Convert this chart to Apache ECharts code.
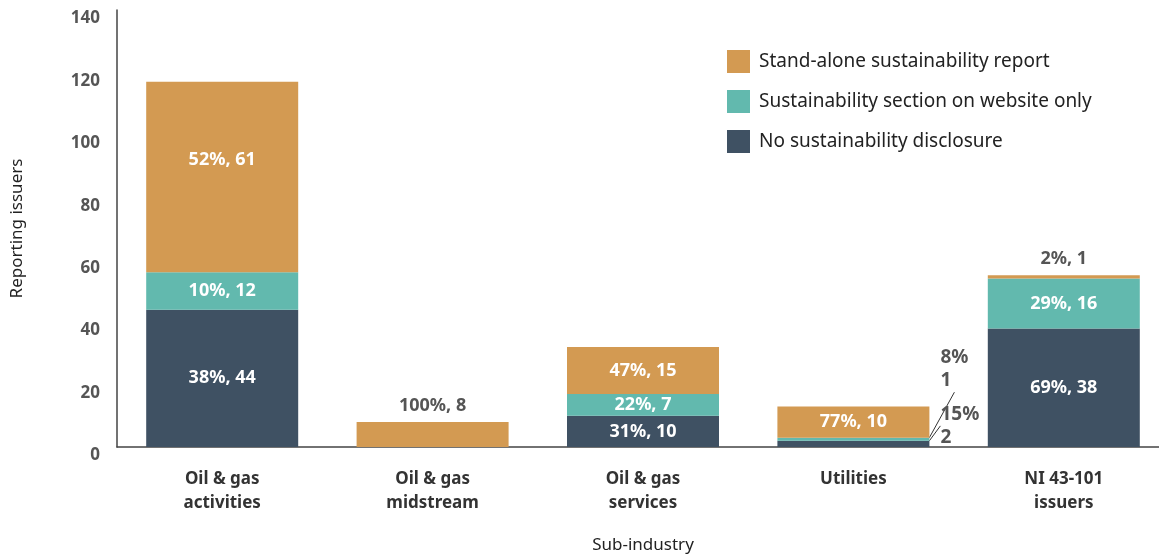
<!DOCTYPE html>
<html>
<head>
<meta charset="utf-8">
<script src="https://cdn.jsdelivr.net/npm/echarts@6/dist/echarts.min.js"></script>
<style>
  html, body { margin: 0; padding: 0; background: #fff; }
  #chart { width: 1159px; height: 559px; }
</style>
</head>
<body>
<div id="chart"></div>
<script>
// Sub-industries on the x axis
const categories = ['Oil & gas\nactivities', 'Oil & gas\nmidstream', 'Oil & gas\nservices', 'Utilities', 'NI 43-101\nissuers'];
// Number of reporting issuers per disclosure type
const noDisclosure = [44, 0, 10, 2, 38];
const websiteOnly = [12, 0, 7, 1, 16];
const standAlone = [61, 8, 15, 10, 1];
const yTicks = [0, 20, 40, 60, 80, 100, 120, 140];

const FONT = '"Noto Sans", sans-serif';
const COLORS = { stand: '#D39A52', web: '#62B9AE', none: '#3F5163' };

const totals = categories.map((_, i) => noDisclosure[i] + websiteOnly[i] + standAlone[i]);
const pct = (v, i) => Math.round(v / totals[i] * 100);

// Labels placed outside the bar (small segments) or nudged inside it
const outsideTop = { 'stand-1': true, 'stand-4': true };
const shifts = {
  'stand-0': { dx: 0, dy: -17 },
  'none-3': { dx: 6, dy: -18 },
  'web-3': { dx: 6, dy: -70 }
};
const sideLabels = { 'none-3': true, 'web-3': true };

function buildData(key, values) {
  return values.map((v, i) => {
    const id = key + '-' + i;
    const item = { value: v };
    if (v === 0) {
      item.label = { show: false };
    } else if (outsideTop[id]) {
      item.label = { position: 'top', color: '#555', distance: 7 };
    } else if (sideLabels[id]) {
      item.label = {
        position: 'right', color: '#555', distance: 5, fontSize: 19,
        formatter: p => pct(p.value, p.dataIndex) + '%\n' + p.value,
        lineHeight: 23, align: 'left'
      };
      item.labelLine = { show: true, lineStyle: { color: '#333', width: 1 } };
    }
    return item;
  });
}

function makeSeries(name, key, values, color) {
  return {
    name: name,
    type: 'bar',
    stack: 'total',
    barWidth: 152,
    itemStyle: { color: color },
    data: buildData(key, values),
    label: {
      show: true,
      position: 'inside',
      color: '#fff',
      fontFamily: FONT,
      fontWeight: 'bold',
      fontSize: 18,
      formatter: p => pct(p.value, p.dataIndex) + '%, ' + p.value
    },
    labelLayout: function (params) {
      const s = shifts[key + '-' + params.dataIndex];
      return s ? { dx: s.dx, dy: s.dy } : {};
    },
    emphasis: { disabled: true }
  };
}

const chart = echarts.init(document.getElementById('chart'), null, { renderer: 'canvas' });
chart.setOption({
  animation: false,
  textStyle: { fontFamily: FONT },
  grid: { left: 117, top: 10, width: 1052, bottom: 112, containLabel: false, outerBoundsMode: 'none' },
  legend: {
    orient: 'vertical',
    left: 727,
    top: 50,
    padding: 0,
    itemWidth: 23,
    itemHeight: 23,
    itemGap: 17,
    icon: 'rect',
    data: ['Stand-alone sustainability report', 'Sustainability section on website only', 'No sustainability disclosure'],
    textStyle: { fontFamily: FONT, fontSize: 19, color: '#222', padding: [0, 0, 0, 4] }
  },
  xAxis: {
    type: 'category',
    data: categories,
    name: 'Sub-industry',
    nameLocation: 'middle',
    nameGap: 90,
    nameTextStyle: { fontFamily: FONT, fontSize: 17, color: '#222' },
    axisLine: { lineStyle: { color: '#444', width: 1.5 } },
    axisTick: { show: false },
    axisLabel: {
      fontFamily: FONT, fontSize: 17, fontWeight: 'bold', color: '#333',
      margin: 20, lineHeight: 24
    }
  },
  yAxis: {
    type: 'value',
    min: yTicks[0],
    max: yTicks[yTicks.length - 1],
    interval: yTicks[1] - yTicks[0],
    name: 'Reporting issuers',
    nameLocation: 'middle',
    nameGap: 91,
    nameTextStyle: { fontFamily: FONT, fontSize: 17, color: '#222' },
    axisLine: { show: true, lineStyle: { color: '#444', width: 1.5 } },
    axisTick: { show: false },
    splitLine: { show: false },
    axisLabel: {
      fontFamily: FONT, fontSize: 17, fontWeight: 'bold', color: '#555',
      margin: 17, verticalAlign: 'top'
    }
  },
  series: [
    makeSeries('No sustainability disclosure', 'none', noDisclosure, COLORS.none),
    makeSeries('Sustainability section on website only', 'web', websiteOnly, COLORS.web),
    makeSeries('Stand-alone sustainability report', 'stand', standAlone, COLORS.stand)
  ]
});
</script>
</body>
</html>
